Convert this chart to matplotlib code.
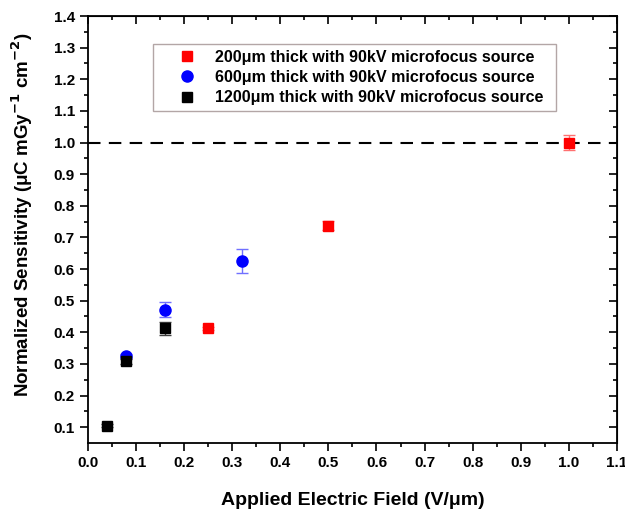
import numpy as np
import matplotlib.pyplot as plt

plt.rcParams['font.family'] = ['Liberation Sans', 'DejaVu Sans']
plt.rcParams['font.weight'] = 'bold'
plt.rcParams['mathtext.default'] = 'bf'

# data
x_200 = [0.25, 0.5, 1.0]
y_200 = [0.412, 0.737, 1.0]
e_200 = [0.005, 0.015, 0.025]

x_600 = [0.08, 0.16, 0.32]
y_600 = [0.325, 0.472, 0.626]
e_600 = [0.006, 0.025, 0.038]

x_1200 = [0.04, 0.08, 0.16]
y_1200 = [0.105, 0.308, 0.412]
e_1200 = [0.004, 0.008, 0.02]

labels = ["200\u03bcm thick with 90kV microfocus source",
          "600\u03bcm thick with 90kV microfocus source",
          "1200\u03bcm thick with 90kV microfocus source"]

fig = plt.figure(figsize=(6.25, 5.18), dpi=100)
ax = fig.add_axes([0.1408, 0.1448, 0.8462, 0.8243])

ax.axhline(1.0, color='black', lw=1.5, ls=(0, (6, 4)), zorder=1)

series = [(x_200, y_200, e_200, 's', '#ff0000', '#ff7070', 7),
          (x_600, y_600, e_600, 'o', '#0000ff', '#7070ff', 8),
          (x_1200, y_1200, e_1200, 's', 'black', '#404040', 7)]
for (x, y, e, m, c, ec, ms), lab in zip(series, labels):
    ax.errorbar(x, y, yerr=e, fmt='none', ecolor=ec, capsize=4,
                elinewidth=1, capthick=1, zorder=2)
    ax.plot(x, y, m, color=c, ms=ms, ls='none', label=lab, zorder=3)

ax.set_xlim(0, 1.1)
ax.set_ylim(0.05, 1.4)
ax.set_xticks(np.arange(0, 1.11, 0.1))
ax.set_xticks(np.arange(0.05, 1.1, 0.1), minor=True)
ax.set_yticks(np.arange(0.1, 1.41, 0.1))
ax.set_yticks(np.arange(0.15, 1.4, 0.1), minor=True)
ax.xaxis.set_major_formatter(plt.FormatStrFormatter('%.1f'))
ax.yaxis.set_major_formatter(plt.FormatStrFormatter('%.1f'))
ax.tick_params(which='major', length=6, width=1.2, labelsize=11, direction='out')
ax.tick_params(which='minor', length=3, width=1.2, direction='out')
for s in ax.spines.values():
    s.set_linewidth(1.3)

# inward ticks on top/right
top = ax.secondary_xaxis('top')
top.set_xticks(ax.get_xticks())
top.set_xticks(ax.get_xticks(minor=True), minor=True)
top.tick_params(which='major', direction='in', length=6, width=1.2, labeltop=False)
top.tick_params(which='minor', direction='in', length=3, width=1.2)
right = ax.secondary_yaxis('right')
right.set_yticks(ax.get_yticks())
right.set_yticks(ax.get_yticks(minor=True), minor=True)
right.tick_params(which='major', direction='in', length=6, width=1.2, labelright=False)
right.tick_params(which='minor', direction='in', length=3, width=1.2)

ax.set_xlabel("Applied Electric Field (V/\u03bcm)", fontsize=14, fontweight='bold', labelpad=16)
ax.set_ylabel("Normalized Sensitivity (\u03bcC mGy$^{-1}$ cm$^{-2}$)", fontsize=13.5,
              fontweight='bold')
ax.yaxis.set_label_coords(-0.1, 0.534)

leg = ax.legend(loc='upper left', bbox_to_anchor=(0.123, 0.934, 0.762, 0.0),
                mode='expand', borderaxespad=0,
                fontsize=11.5, frameon=True, fancybox=False, handlelength=3.5,
                handletextpad=0.05, borderpad=0.35, labelspacing=0.33)
leg.get_frame().set_edgecolor('#a09090')
leg.get_frame().set_linewidth(1.0)
for t in leg.get_texts():
    t.set_fontweight('bold')

fig.savefig('out.png', dpi=100)
